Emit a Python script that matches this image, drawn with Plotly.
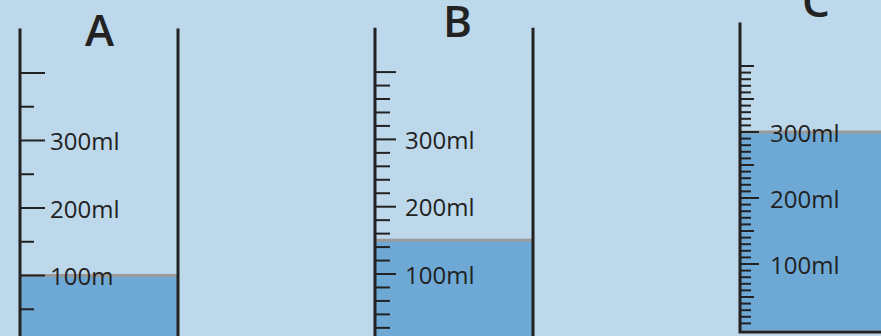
import plotly.graph_objects as go

# cylinder data
names = ["A", "B", "C"]
volumes = [100, 150, 300]          # water level, ml
tick_steps = [50, 20, 10]          # graduation spacing, ml
label_values = [100, 200, 300]
label_text = [["100m", "200ml", "300ml"],
              ["100ml", "200ml", "300ml"],
              ["100ml", "200ml", "300ml"]]
max_mark = 400
wall_top = 466

# layout (horizontal position of each cylinder, in pixels of the 881px canvas)
left_x = [20, 375, 740]
right_x = [178, 533, 900]
title_x = [100, 457, 816]
title_y = [465, 477, 500]
label_x = [48, 403, 768]
yranges = [[10.4, 508.1], [7.9, 507.1], [-9.1, 500.0]]

BG = "rgb(188,216,234)"
WATER = "rgb(110,169,213)"
INK = "#222222"

fig = go.Figure()

for i, name in enumerate(names):
    yref = "y" if i == 0 else f"y{i + 1}"
    lx, rx = left_x[i], right_x[i]

    # water
    fig.add_trace(go.Scatter(
        x=[lx, rx, rx, lx, lx], y=[0, 0, volumes[i], volumes[i], 0],
        mode="lines", fill="toself", fillcolor=WATER, line={"width": 0},
        yaxis=yref, showlegend=False, hoverinfo="skip"))
    # surface line
    fig.add_trace(go.Scatter(
        x=[lx, rx], y=[volumes[i], volumes[i]], mode="lines",
        line={"color": "#9a9a9a", "width": 3}, yaxis=yref,
        showlegend=False, hoverinfo="skip"))

    # graduations
    tx, ty = [], []
    step = tick_steps[i]
    for v in range(step, max_mark + 1, step):
        if v % 100 == 0:
            length = 25 if i == 0 else (21 if i == 1 else (19 if v < max_mark else 14))
        elif i == 2 and v % 50 == 0:
            length = 14
        else:
            length = 14 if i == 0 else (15 if i == 1 else 11)
        tx += [lx, lx + length, None]
        ty += [v, v, None]
    fig.add_trace(go.Scatter(
        x=tx, y=ty, mode="lines", line={"color": INK, "width": 2},
        yaxis=yref, showlegend=False, hoverinfo="skip"))

    # walls
    wx = [lx, lx, None, rx, rx]
    wy = [-20, wall_top, None, -20, wall_top]
    if i == 2:
        wx = [lx, lx, rx, rx]
        wy = [wall_top, -3, -3, wall_top]
    fig.add_trace(go.Scatter(
        x=wx, y=wy, mode="lines", line={"color": INK, "width": 3},
        yaxis=yref, showlegend=False, hoverinfo="skip"))

    for v, t in zip(label_values, label_text[i]):
        fig.add_annotation(x=label_x[i], y=v, xref="x", yref=yref, text=t,
                           showarrow=False, xanchor="left", yanchor="middle",
                           font={"family": "Open Sans", "size": 24, "color": INK})
    fig.add_annotation(x=title_x[i], y=title_y[i], xref="x", yref=yref,
                       text=name, showarrow=False, xanchor="center",
                       yanchor="middle",
                       font={"family": "Open Sans", "size": 44, "color": INK,
                             "weight": 600})

axis_off = {"visible": False, "fixedrange": True}
fig.update_layout(
    width=881, height=336,
    margin={"l": 0, "r": 0, "t": 0, "b": 0},
    paper_bgcolor=BG, plot_bgcolor=BG,
    xaxis={**axis_off, "range": [0, 881]},
    yaxis={**axis_off, "range": yranges[0]},
    yaxis2={**axis_off, "range": yranges[1], "overlaying": "y"},
    yaxis3={**axis_off, "range": yranges[2], "overlaying": "y"},
)

fig.write_html("out.html", config={"displayModeBar": False},
               post_script="document.body.style.margin='0';")
